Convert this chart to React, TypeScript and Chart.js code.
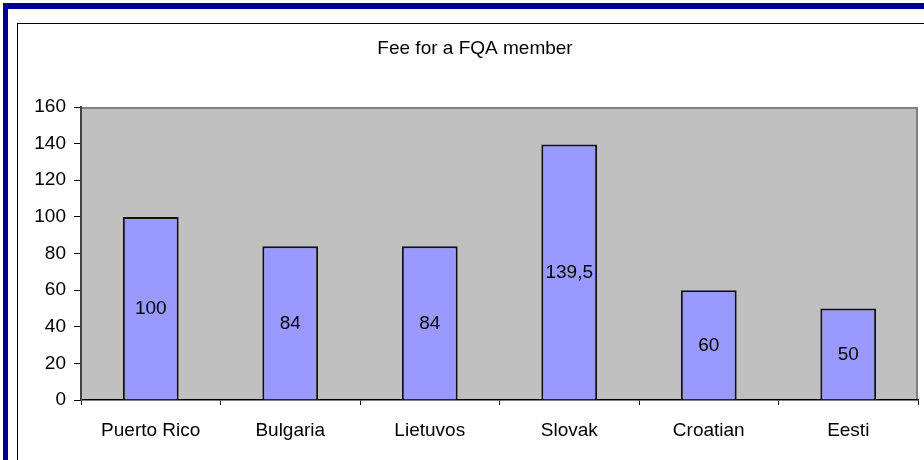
import React, { useEffect, useRef } from "react";
import { Chart, registerables } from "chart.js";

Chart.register(...registerables);

const TITLE = "Fee for a FQA member";
const CATEGORIES = ["Puerto Rico", "Bulgaria", "Lietuvos", "Slovak", "Croatian", "Eesti"];
const FEES = [100, 84, 84, 139.5, 60, 50];
const Y_MIN = 0;
const Y_MAX = 160;
const Y_STEP = 20;

const FONT = "'Liberation Sans', Arial, sans-serif";
const FONT_SIZE = 19;

const framePlugin = {
  id: "frame",
  beforeDraw(chart: any) {
    const { ctx, chartArea } = chart;
    ctx.save();
    ctx.fillStyle = "#ffffff";
    ctx.fillRect(0, 0, chart.width, chart.height);
    // outer blue border (top/left)
    ctx.fillStyle = "#000099";
    ctx.fillRect(3, 3, chart.width - 3, 6);
    ctx.fillRect(3, 3, 5, chart.height - 3);
    // inner black frame
    ctx.fillStyle = "#000000";
    ctx.fillRect(17, 23, chart.width - 17, 1);
    ctx.fillRect(17, 23, 1, chart.height - 23);
    // plot area
    const { left, top, right, bottom } = chartArea;
    ctx.fillStyle = "#C0C0C0";
    ctx.fillRect(left, top, right - left, bottom - top);
    ctx.strokeStyle = "#808080";
    ctx.lineWidth = 2;
    ctx.beginPath();
    ctx.moveTo(left, top + 1);
    ctx.lineTo(right - 1, top + 1);
    ctx.lineTo(right - 1, bottom);
    ctx.stroke();
    // title
    ctx.fillStyle = "#000000";
    ctx.font = `${FONT_SIZE}px ${FONT}`;
    ctx.textAlign = "center";
    ctx.textBaseline = "middle";
    ctx.fillText(TITLE, 475, 49);
    ctx.restore();
  },
  afterDatasetsDraw(chart: any) {
    const { ctx } = chart;
    const meta = chart.getDatasetMeta(0);
    ctx.save();
    ctx.fillStyle = "#000000";
    ctx.font = `${FONT_SIZE}px ${FONT}`;
    ctx.textAlign = "center";
    ctx.textBaseline = "middle";
    meta.data.forEach((bar: any, i: number) => {
      const v = FEES[i];
      const txt = String(v).replace(".", ",");
      ctx.fillText(txt, bar.x, (bar.y + bar.base) / 2 + 1);
    });
    ctx.restore();
  },
};

export default function App() {
  const ref = useRef<HTMLCanvasElement | null>(null);
  useEffect(() => {
    if (!ref.current) return;
    const chart = new Chart(ref.current, {
      type: "bar",
      data: {
        labels: CATEGORIES,
        datasets: [
          {
            data: FEES,
            backgroundColor: "#9999FF",
            borderColor: "#111111",
            borderWidth: 2,
            barPercentage: 0.4,
            categoryPercentage: 1,
          },
        ],
      },
      options: {
        animation: false,
        responsive: false,
        maintainAspectRatio: false,
        layout: { padding: { left: 20, top: 107, right: 6, bottom: 20 } },
        plugins: {
          legend: { display: false },
          title: { display: false },
          tooltip: { enabled: false },
        },
        scales: {
          x: {
            afterFit: (s: any) => {
              s.height = 40;
            },
            grid: {
              display: true,
              offset: true,
              drawOnChartArea: false,
              drawTicks: true,
              tickLength: 5,
              color: "#000000",
            },
            border: { display: true, color: "#000000", width: 1.5 },
            ticks: {
              color: "#000000",
              font: { family: FONT, size: FONT_SIZE },
              padding: 14,
              maxRotation: 0,
              autoSkip: false,
            },
          },
          y: {
            min: Y_MIN,
            max: Y_MAX,
            afterFit: (s: any) => {
              s.width = 61;
            },
            grid: {
              display: true,
              drawOnChartArea: false,
              drawTicks: true,
              tickLength: 7,
              color: "#000000",
            },
            border: { display: true, color: "#404040", width: 2 },
            ticks: {
              stepSize: Y_STEP,
              color: "#000000",
              font: { family: FONT, size: FONT_SIZE },
              padding: 8,
            },
          },
        },
      },
      plugins: [framePlugin],
    });
    return () => chart.destroy();
  }, []);
  return (
    <div style={{ position: "fixed", left: 0, top: 0, width: 924, height: 460, background: "#fff" }}>
      <canvas ref={ref} width={924} height={460} style={{ display: "block", width: 924, height: 460 }} />
    </div>
  );
}
